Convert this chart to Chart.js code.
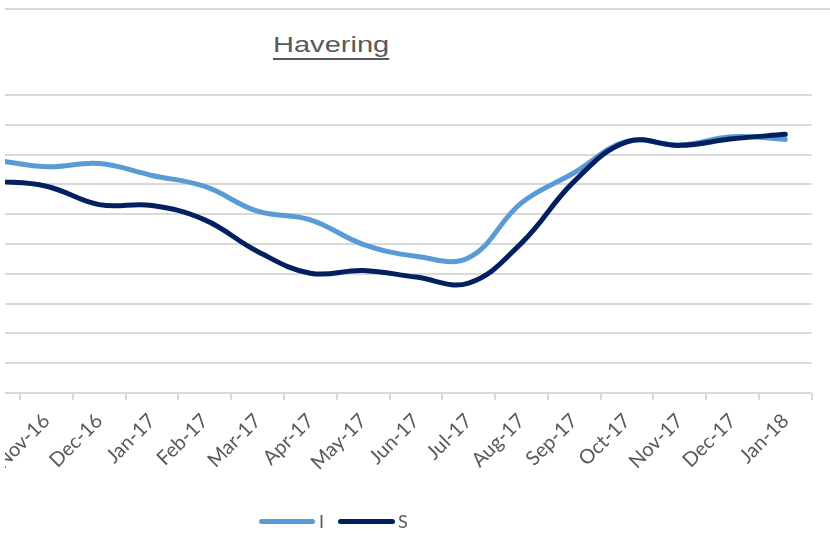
<!DOCTYPE html>
<html>
<head>
<meta charset="utf-8">
<title>Havering</title>
<script src="https://cdn.jsdelivr.net/npm/chart.js@4/dist/chart.umd.min.js"></script>
<style>
  html, body { margin: 0; padding: 0; background: #fff; }
  body { width: 830px; height: 557px; position: relative; overflow: hidden; }
  .topRule { position: absolute; left: 5px; right: 0; top: 8px; height: 2px; background: #d9d9d9; }
  .title {
    position: absolute; left: 273px; top: 34px;
    font: 22px/22px "Liberation Sans", Arial, sans-serif; color: #595959;
    text-decoration: underline; text-decoration-thickness: 2px; text-underline-offset: 6px;
    transform: scaleX(1.32); transform-origin: left top; white-space: nowrap;
  }
  .plotWrap { position: absolute; left: 5px; top: 0; width: 825px; height: 557px; overflow: hidden; }
  #chart { position: absolute; left: -40px; top: 0; }
  .legend { position: absolute; left: 0; top: 0; }
  .legend .swatch { position: absolute; height: 5px; border-radius: 3px; }
  .legend .lbl { position: absolute; font: 18px/18px Lato, sans-serif; color: #595959; }
</style>
</head>
<body>
<div class="topRule"></div>
<div class="title">Havering</div>
<div class="plotWrap"><canvas id="chart" width="865" height="557"></canvas></div>
<div class="legend" id="legend"></div>

<script>
// monthly categories (first one sits just off the left edge)
const months = ["Oct-16", "Nov-16", "Dec-16", "Jan-17", "Feb-17", "Mar-17", "Apr-17", "May-17",
  "Jun-17", "Jul-17", "Aug-17", "Sep-17", "Oct-17", "Nov-17", "Dec-17", "Jan-18"];

const seriesI = [78.3, 75.9, 77.0, 73.0, 69.3, 61.0, 58.1, 49.9, 45.9, 45.4, 63.8, 73.9, 84.5, 83.2, 86.0, 85.1];
const seriesS = [71.1, 69.4, 63.2, 62.9, 58.1, 47.5, 40.2, 41.1, 38.9, 36.9, 50.3, 71.0, 84.3, 83.1, 85.3, 86.8];

// value axis (labels are not shown)
const yMin = 0;
const yMax = 100;
const yStep = 10;

const colorI = "#5b9bd5";
const colorS = "#002060";
const gridColor = "#d9d9d9";

const ctx = document.getElementById("chart");

const havering = new Chart(ctx, {
  type: "line",
  data: {
    labels: months,
    datasets: [
      {
        label: "S",
        data: seriesS,
        borderColor: colorS,
        backgroundColor: colorS,
        order: 0,
      },
      {
        label: "I",
        data: seriesI,
        borderColor: colorI,
        backgroundColor: colorI,
        order: 1,
      },
    ],
  },
  options: {
    responsive: false,
    animation: false,
    layout: { padding: { top: 95, bottom: 44, left: 2.3, right: 18.3 } },
    elements: {
      point: { radius: 0, hoverRadius: 0 },
      line: { borderWidth: 5, tension: 0.4, borderCapStyle: "round", borderJoinStyle: "round" },
    },
    plugins: {
      legend: { display: false },
      tooltip: { enabled: false },
    },
    scales: {
      x: {
        offset: true,
        grid: {
          offset: true,
          drawOnChartArea: false,
          drawTicks: true,
          tickLength: 7,
          color: gridColor,
          lineWidth: 2,
        },
        border: { display: false },
        ticks: {
          minRotation: 45,
          maxRotation: 45,
          autoSkip: false,
          padding: 9,
          color: "#595959",
          font: { family: "Lato", size: 20 },
        },
        afterFit: (scale) => {
          scale.height = 120;
          scale.paddingLeft = 0;
          scale.paddingRight = 0;
        },
      },
      y: {
        min: yMin,
        max: yMax,
        ticks: { stepSize: yStep, display: false },
        grid: { color: gridColor, lineWidth: 2, drawTicks: false },
        border: { display: false },
        afterFit: (scale) => {
          scale.width = 0;
        },
      },
    },
  },
});

// legend drawn in html, in I / S order
const legendBox = document.getElementById("legend");
const legendItems = [
  { label: "I", color: colorI, x: 259, w: 56, tx: 319 },
  { label: "S", color: colorS, x: 338, w: 57, tx: 398 },
];
legendItems.forEach((it) => {
  const sw = document.createElement("div");
  sw.className = "swatch";
  sw.style.left = it.x + "px";
  sw.style.top = "519px";
  sw.style.width = it.w + "px";
  sw.style.background = it.color;
  legendBox.appendChild(sw);

  const t = document.createElement("div");
  t.className = "lbl";
  t.textContent = it.label;
  t.style.left = it.tx + "px";
  t.style.top = "512px";
  legendBox.appendChild(t);
});
</script>
</body>
</html>
